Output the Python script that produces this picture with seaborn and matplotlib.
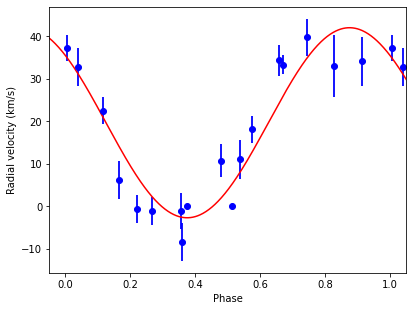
import matplotlib
matplotlib.use("Agg")
import matplotlib.pyplot as plt
import numpy as np
import pandas as pd
import seaborn as sns

# observed radial velocities, folded on the orbital period
PHASE = [0.005, 0.039, 0.117, 0.164, 0.220, 0.267, 0.356, 0.360, 0.373,
         0.478, 0.513, 0.537, 0.576, 0.658, 0.671, 0.744, 0.827, 0.915]
RV = [37.2, 32.7, 22.5, 6.2, -0.6, -1.1, -1.1, -8.4, 0.0,
      10.7, 0.0, 11.1, 18.1, 34.3, 33.3, 39.7, 33.1, 34.1]
RV_ERR = [3.1, 4.5, 3.2, 4.4, 3.3, 3.35, 4.2, 4.4, 0.5,
          3.9, 0.3, 4.6, 3.1, 3.6, 2.2, 4.4, 7.3, 5.7]

# circular-orbit fit: systemic velocity, semi-amplitude, phase of max
GAMMA = 19.65
K_AMP = 22.35
PHASE_MAX = 0.875

XLIM = (-0.05, 1.05)


def main():
    obs = pd.DataFrame({"phase": PHASE, "rv": RV, "err": RV_ERR})
    # repeat a cycle either side so points near the edges show twice
    folded = pd.concat([obs.assign(phase=obs.phase + k) for k in (-1, 0, 1)])
    folded = folded[(folded.phase >= XLIM[0]) & (folded.phase <= XLIM[1])]

    grid = np.linspace(XLIM[0], XLIM[1], 600)
    model = pd.DataFrame({
        "phase": grid,
        "rv": GAMMA + K_AMP * np.cos(2 * np.pi * (grid - PHASE_MAX)),
    })

    fig, ax = plt.subplots(figsize=(6.4, 4.8), dpi=72)
    ax.errorbar(folded.phase, folded.rv, yerr=folded.err, fmt="o", color="b",
                ms=6, elinewidth=1.8)
    sns.lineplot(data=model, x="phase", y="rv", color="red", lw=1.5, ax=ax)

    ax.set_xlim(*XLIM)
    ax.set_xlabel("Phase")
    ax.set_ylabel("Radial velocity (km/s)")
    fig.savefig("out.png", dpi=72, bbox_inches="tight")


if __name__ == "__main__":
    main()
